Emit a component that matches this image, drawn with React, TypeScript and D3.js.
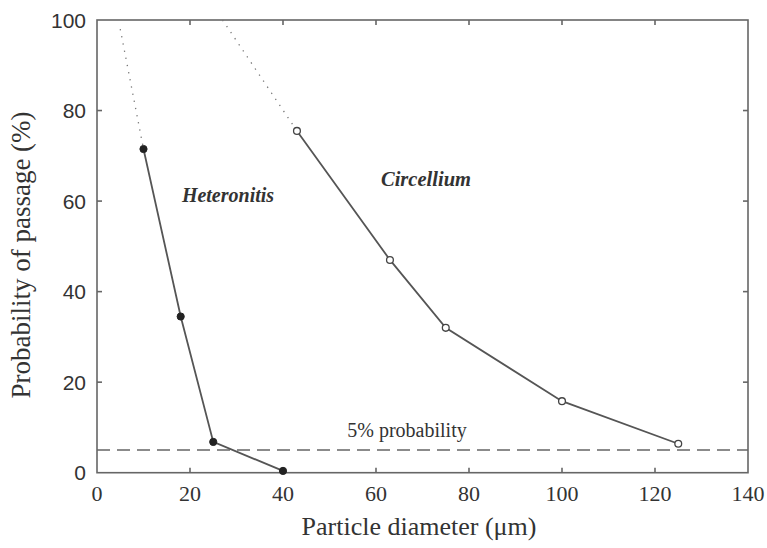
import React from "react";
import * as d3 from "d3";

const xTicks = [0, 20, 40, 60, 80, 100, 120, 140];
const yTicks = [0, 20, 40, 60, 80, 100];

const heteronitisX = [10, 18, 25, 40];
const heteronitisY = [71.5, 34.5, 6.8, 0.4];
const heteronitisExtX = [5, 10];
const heteronitisExtY = [98, 71.5];

const circelliumX = [43, 63, 75, 100, 125];
const circelliumY = [75.5, 47, 32, 15.8, 6.4];
const circelliumExtX = [27, 43];
const circelliumExtY = [100, 75.5];

const threshold = 5;

export default function App() {
  const W = 767, H = 548;
  const m = { left: 97, right: 748, top: 20, bottom: 472.7 };
  const x = d3.scaleLinear().domain([0, 140]).range([m.left, m.right]);
  const y = d3.scaleLinear().domain([0, 100]).range([m.bottom, m.top]);
  const line = d3.line<[number, number]>().x(d => x(d[0])).y(d => y(d[1]));
  const zip = (a: number[], b: number[]) => a.map((v, i) => [v, b[i]] as [number, number]);
  const stroke = "#555";
  const serif = "'Liberation Serif', 'DejaVu Serif', serif";
  const sans = "'Liberation Sans', Arial, sans-serif";
  const tl = 5;
  return (
    <svg width={W} height={H} style={{ position: "absolute", left: 0, top: 0 }}>
      <rect x={0} y={0} width={W} height={H} fill="#fff" />
      {/* frame */}
      <rect x={m.left} y={m.top} width={m.right - m.left} height={m.bottom - m.top} fill="none" stroke="#666" strokeWidth={1.6} />
      {xTicks.slice(1, -1).map(t => (
        <g key={"xt" + t}>
          <line x1={x(t)} x2={x(t)} y1={m.bottom} y2={m.bottom - tl} stroke="#666" strokeWidth={1.6} />
          <line x1={x(t)} x2={x(t)} y1={m.top} y2={m.top + tl} stroke="#666" strokeWidth={1.6} />
        </g>
      ))}
      {yTicks.slice(1, -1).map(t => (
        <g key={"yt" + t}>
          <line x1={m.left} x2={m.left + tl} y1={y(t)} y2={y(t)} stroke="#666" strokeWidth={1.6} />
          <line x1={m.right} x2={m.right - tl} y1={y(t)} y2={y(t)} stroke="#666" strokeWidth={1.6} />
        </g>
      ))}
      {xTicks.map(t => (
        <text key={"xl" + t} x={x(t)} y={501} textAnchor="middle" fontFamily={serif} fontSize={22} fill="#333">{t}</text>
      ))}
      {yTicks.map(t => (
        <text key={"yl" + t} x={86} y={y(t) + 7.5} textAnchor="end" fontFamily={sans} fontSize={21} fill="#333">{t}</text>
      ))}
      <text x={419} y={535} textAnchor="middle" fontFamily={serif} fontSize={26} fill="#333">Particle diameter (μm)</text>
      <text transform={`translate(30, 255) rotate(-90)`} textAnchor="middle" fontFamily={serif} fontSize={27} fill="#333">Probability of passage (%)</text>

      {/* threshold */}
      <line x1={m.left} x2={m.right} y1={y(threshold)} y2={y(threshold)} stroke="#666" strokeWidth={1.5} strokeDasharray="13 7" />
      <text x={407} y={437} textAnchor="middle" fontFamily={serif} fontSize={20} fill="#333">5% probability</text>

      {/* dotted extensions */}
      <path d={line(zip(heteronitisExtX, heteronitisExtY)) || ""} fill="none" stroke="#777" strokeWidth={1.3} strokeDasharray="1.3 6" />
      <path d={line(zip(circelliumExtX, circelliumExtY)) || ""} fill="none" stroke="#777" strokeWidth={1.3} strokeDasharray="1.3 6" />

      {/* series */}
      <path d={line(zip(heteronitisX, heteronitisY)) || ""} fill="none" stroke={stroke} strokeWidth={1.8} />
      <path d={line(zip(circelliumX, circelliumY)) || ""} fill="none" stroke={stroke} strokeWidth={1.8} />
      {heteronitisX.map((v, i) => (
        <circle key={"h" + i} cx={x(v)} cy={y(heteronitisY[i])} r={3.6} fill="#222" stroke="#222" />
      ))}
      {circelliumX.map((v, i) => (
        <circle key={"c" + i} cx={x(v)} cy={y(circelliumY[i])} r={3.4} fill="#fff" stroke="#444" strokeWidth={1.3} />
      ))}

      <text x={228} y={202} textAnchor="middle" fontFamily={serif} fontStyle="italic" fontWeight="bold" fontSize={20} fill="#333">Heteronitis</text>
      <text x={426} y={186} textAnchor="middle" fontFamily={serif} fontStyle="italic" fontWeight="bold" fontSize={20.5} fill="#333">Circellium</text>
    </svg>
  );
}
